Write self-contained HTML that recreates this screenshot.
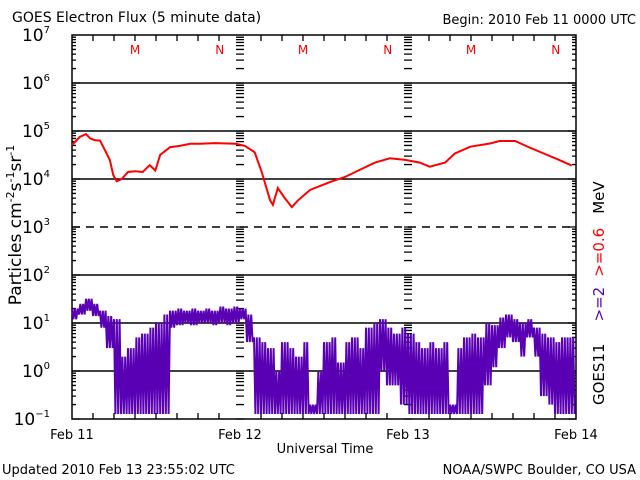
<!DOCTYPE html>
<html><head><meta charset="utf-8"><style>
body{margin:0;background:#fff}
svg{display:block;font-family:"DejaVu Sans","Liberation Sans",sans-serif}
</style></head><body>
<svg id="c" width="640" height="480" viewBox="0 0 640 480">
<text x="12" y="22" font-size="14">GOES Electron Flux (5 minute data)</text>
<text x="636" y="24" font-size="13" text-anchor="end">Begin: 2010 Feb 11 0000 UTC</text>
<text x="325" y="453" font-size="13" text-anchor="middle">Universal Time</text>
<text x="2" y="474" font-size="13">Updated 2010 Feb 13 23:55:02 UTC</text>
<text x="636" y="474" font-size="13" text-anchor="end">NOAA/SWPC Boulder, CO USA</text>
<text transform="translate(21,225) rotate(-90)" font-size="17" text-anchor="middle">Particles cm<tspan font-size="11" dy="-7">-2</tspan><tspan dy="7">s</tspan><tspan font-size="11" dy="-7">-1</tspan><tspan dy="7">sr</tspan><tspan font-size="11" dy="-7">-1</tspan></text>
<text transform="translate(604,405) rotate(-90)" font-size="15"><tspan fill="#000">GOES11</tspan><tspan fill="#5a00b4" dx="22">&gt;=2</tspan><tspan fill="#ff0000" dx="10">&gt;=0.6</tspan><tspan fill="#000" dx="14">MeV</tspan></text>
<g id="g"></g>
</svg>
<script>
const dayLabels=["Feb 11","Feb 12","Feb 13","Feb 14"];
const decades=[-1,0,1,2,3,4,5,6,7];
const redHours=[0,1.1,2,2.6,3.3,4,4.7,5.4,5.9,6.4,7.1,8,9,10.1,11.1,11.9,12.6,14,15.4,16.9,18.3,20.4,23.4,24.7,26.1,27.1,28.3,28.7,29.4,30.4,31.4,32.3,34,36.9,39,41.1,43.3,45.4,47.6,49.7,51.1,53.3,54.7,56.9,59.7,61.1,63.3,65.4,67.4,69.3,71.4];
const redVals=[5.1e4,7.5e4,8.6e4,7e4,6.4e4,6.3e4,4e4,2.5e4,1.2e4,9e3,1e4,1.4e4,1.45e4,1.4e4,1.95e4,1.5e4,3.2e4,4.6e4,4.9e4,5.4e4,5.4e4,5.6e4,5.4e4,4.9e4,3.6e4,1.4e4,3.6e3,2.9e3,6.5e3,4e3,2.6e3,3.6e3,5.9e3,8.7e3,1.1e4,1.55e4,2.2e4,2.7e4,2.5e4,2.2e4,1.8e4,2.2e4,3.4e4,4.7e4,5.5e4,6.2e4,6.2e4,4.5e4,3.4e4,2.6e4,1.9e4];
const purpleHi=[20,25,32,25,18,14,12,2,3,5,6,8,10,15,18,20,18,20,18,20,18,22,20,22,20,15,5,4,3,1,4,3,2,4,0.2,1,4,5,1.5,4,5,3,8,10,12,8,6,8,6,4,3,4,3,4,0.2,3,5,6,5,10,9,13,15,12,10,12,8,6,5,4,5,5];
const purpleLo=[12,15,18,14,8,3,0.1,0.1,0.1,0.1,0.1,0.1,0.1,0.1,8,9,10,9,10,10,9,10,9,10,12,4,0.1,0.1,0.1,0.1,0.1,0.1,0.1,0.1,0.1,0.1,0.1,0.1,0.1,0.1,0.1,0.1,0.1,0.1,1,0.5,0.5,0.2,0.1,0.1,0.1,0.1,0.1,0.1,0.1,0.1,0.1,0.1,0.1,0.5,1.2,3,5,4,2,5,2,0.3,0.2,0.1,0.1,0.1];
const L=72,R=576,T=35,B=419;
const X=h=>L+(R-L)*h/72;
const Y=v=>{let y=T+(7-Math.log10(v))*48;return Math.min(y,B-5);};
const NS="http://www.w3.org/2000/svg";
const g=document.getElementById('g');
function mk(t,a){const e=document.createElementNS(NS,t);for(const k in a)e.setAttribute(k,a[k]);g.appendChild(e);return e;}
decades.forEach(d=>{if(d===7||d===-1)return;
const l=mk('line',{x1:L,x2:R,y1:T+(7-d)*48,y2:T+(7-d)*48,stroke:'#000','stroke-width':1.5,'stroke-dasharray':d===3?'8,6':'none'});

});
const fr=mk('rect',{x:L,y:T,width:R-L,height:B-T,fill:'none',stroke:'#000','stroke-width':1.5});


let tp='';
for(let d=-1;d<7;d++)for(let m=1;m<10;m++){const y=T+(7-d-Math.log10(m))*48;if(y>B)continue;const len=m===1?8:4;
tp+=`M${L} ${y}h${len}M${R} ${y}h${-len}`;
[240,408].forEach(x=>{tp+=`M${x-4} ${y}h8`;});}
for(let h=3;h<72;h+=3){if(h%24===0)continue;tp+=`M${X(h)} ${B}v-6M${X(h)} ${T}v6`;}
const tk=mk('path',{d:tp,stroke:'#000','stroke-width':1.3,fill:'none'});


decades.forEach(d=>{const t=mk('text',{x:50,y:T+(7-d)*48+6,'font-size':17,'text-anchor':'end'});t.textContent='10';
const s=document.createElementNS(NS,'tspan');s.setAttribute('font-size','10');s.setAttribute('dy','-8');s.textContent=String(d).replace('-','\u2212');t.appendChild(s);

});
dayLabels.forEach((s,i)=>{const t=mk('text',{x:X(i*24),y:439,'font-size':13,'text-anchor':'middle'});t.textContent=s;

});
for(let i=0;i<3;i++){[['M',9],['N',21.1]].forEach(([c,h])=>{const t=mk('text',{x:X(i*24+h),y:54,'font-size':12,fill:'#f00','text-anchor':'middle'});t.textContent=c;

});}
let pd='',n=0;
for(let h=0;h<72;h++){for(let k=0;k<5;k++){const v=n%2?purpleLo[h]:purpleHi[h];n++;const x=X(h+k/5).toFixed(1);
pd+=(pd?'L':'M')+x+' '+Y(v).toFixed(1);}}
const pp=mk('path',{d:pd,fill:'none',stroke:'#5a00b4','stroke-width':2});


let rd='';redHours.forEach((h,i)=>{rd+=(i?'L':'M')+X(h).toFixed(1)+' '+Y(redVals[i]).toFixed(1);});
const rp=mk('path',{d:rd,fill:'none',stroke:'#f00','stroke-width':2});


</script>
</body></html>
